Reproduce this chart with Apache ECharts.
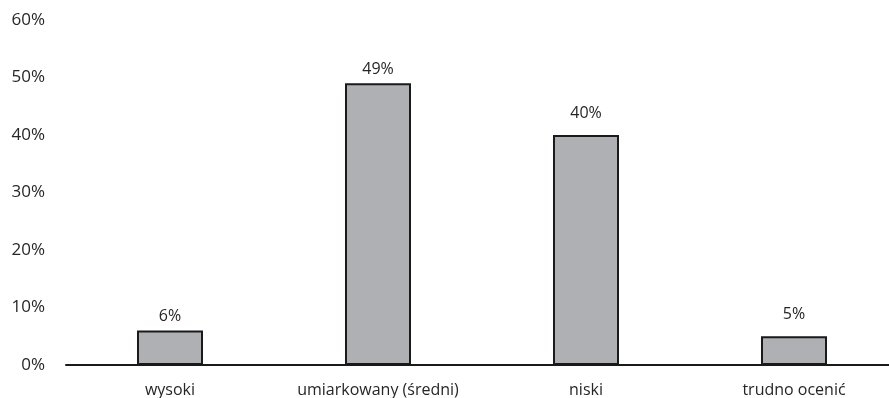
<!DOCTYPE html>
<html>
<head>
<meta charset="utf-8">
<script src="https://cdn.jsdelivr.net/npm/echarts@6/dist/echarts.min.js"></script>
<style>
  html, body { margin: 0; padding: 0; background: #fff; }
  #chart { width: 889px; height: 398px; }
</style>
</head>
<body>
<div id="chart"></div>
<script>
// Ocena poziomu – udział odpowiedzi (%)
const categories = ['wysoki', 'umiarkowany (średni)', 'niski', 'trudno ocenić'];
const values = [6, 49, 40, 5];
const yTicks = [0, 10, 20, 30, 40, 50, 60];

const font = '"Open Sans", "Noto Sans", sans-serif';
const textColor = '#262626';

// the last two value labels sit a little higher above their bars
const labelDistance = i => (i >= 2 ? 14 : 6);

const chart = echarts.init(document.getElementById('chart'));
chart.setOption({
  animation: false,
  grid: { left: 66, top: 20, width: 832, bottom: 33, containLabel: false, outerBoundsMode: 'none' },
  xAxis: {
    type: 'category',
    data: categories,
    axisLine: { show: true, lineStyle: { color: '#1a1a1a', width: 2 } },
    axisTick: { show: false },
    axisLabel: { color: textColor, fontFamily: font, fontSize: 16, margin: 17, interval: 0 }
  },
  yAxis: {
    type: 'value',
    min: yTicks[0],
    max: yTicks[yTicks.length - 1],
    interval: 10,
    axisLine: { show: false },
    axisTick: { show: false },
    splitLine: { show: false },
    axisLabel: {
      color: textColor, fontFamily: font, fontSize: 17, margin: 21,
      formatter: v => v + '%'
    }
  },
  series: [{
    type: 'bar',
    data: values.map((v, i) => ({ value: v, label: { distance: labelDistance(i) } })),
    barWidth: 66,
    itemStyle: { color: '#afb0b3', borderColor: '#1a1a1a', borderWidth: 2 },
    label: {
      show: true, position: 'top', distance: 6,
      color: textColor, fontFamily: font, fontSize: 16,
      formatter: p => p.value + '%'
    }
  }]
});
</script>
</body>
</html>
